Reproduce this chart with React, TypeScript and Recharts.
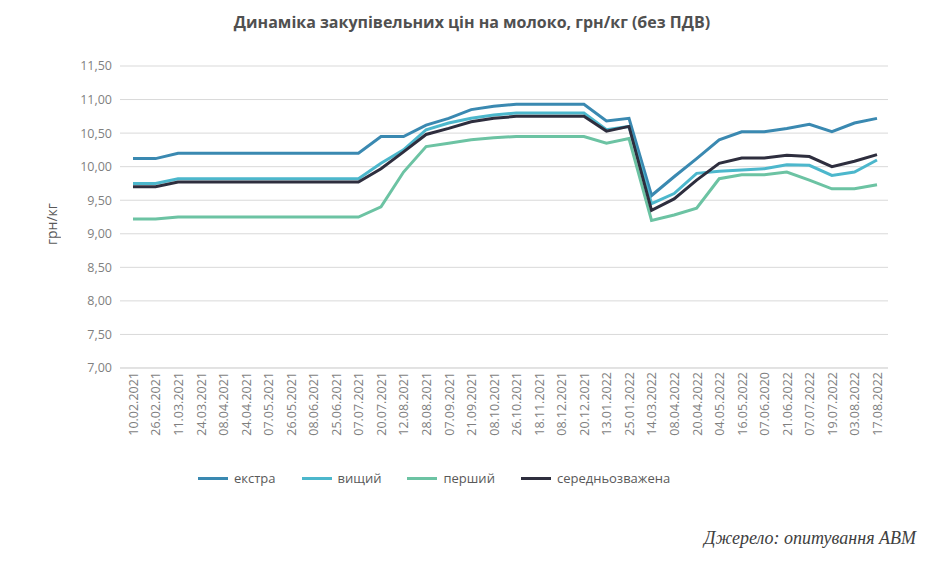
import React from "react";
import { LineChart, Line, XAxis, YAxis, CartesianGrid } from "recharts";

const dates = [
  "10.02.2021", "26.02.2021", "11.03.2021", "24.03.2021", "08.04.2021", "24.04.2021", "07.05.2021",
  "26.05.2021", "08.06.2021", "25.06.2021", "07.07.2021", "20.07.2021", "12.08.2021", "28.08.2021",
  "07.09.2021", "21.09.2021", "08.10.2021", "26.10.2021", "18.11.2021", "08.12.2021", "20.12.2021",
  "13.01.2022", "25.01.2022", "14.03.2022", "08.04.2022", "20.04.2022", "04.05.2022", "16.05.2022",
  "07.06.2020", "21.06.2022", "07.07.2022", "19.07.2022", "03.08.2022", "17.08.2022",
];
const extra = [10.12, 10.12, 10.2, 10.2, 10.2, 10.2, 10.2, 10.2, 10.2, 10.2, 10.2, 10.45, 10.45, 10.62, 10.72, 10.85, 10.9, 10.93, 10.93, 10.93, 10.93, 10.68, 10.72, 9.57, 9.85, 10.12, 10.4, 10.52, 10.52, 10.57, 10.63, 10.52, 10.65, 10.72];
const higher = [9.75, 9.75, 9.82, 9.82, 9.82, 9.82, 9.82, 9.82, 9.82, 9.82, 9.82, 10.05, 10.25, 10.55, 10.65, 10.72, 10.77, 10.8, 10.8, 10.8, 10.8, 10.55, 10.6, 9.45, 9.6, 9.9, 9.93, 9.95, 9.97, 10.03, 10.02, 9.87, 9.92, 10.1];
const first = [9.22, 9.22, 9.25, 9.25, 9.25, 9.25, 9.25, 9.25, 9.25, 9.25, 9.25, 9.4, 9.92, 10.3, 10.35, 10.4, 10.43, 10.45, 10.45, 10.45, 10.45, 10.35, 10.42, 9.2, 9.28, 9.38, 9.82, 9.88, 9.88, 9.92, 9.8, 9.67, 9.67, 9.73];
const weighted = [9.7, 9.7, 9.77, 9.77, 9.77, 9.77, 9.77, 9.77, 9.77, 9.77, 9.77, 9.97, 10.22, 10.48, 10.57, 10.67, 10.72, 10.75, 10.75, 10.75, 10.75, 10.53, 10.6, 9.35, 9.52, 9.8, 10.05, 10.13, 10.13, 10.17, 10.15, 10.0, 10.08, 10.18];
const yTicks = [7, 7.5, 8, 8.5, 9, 9.5, 10, 10.5, 11, 11.5];

const series = [
  { key: "extra", name: "екстра", color: "#3a89b1" },
  { key: "higher", name: "вищий", color: "#4cb7cc" },
  { key: "first", name: "перший", color: "#6cc3a3" },
  { key: "weighted", name: "середньозважена", color: "#2e2e3e" },
];

const data = dates.map((d, i) => ({
  date: d,
  extra: extra[i],
  higher: higher[i],
  first: first[i],
  weighted: weighted[i],
}));

const fmt = (v: number) => v.toFixed(2).replace(".", ",");

const App: React.FC = () => {
  return (
    <div style={{ position: "relative", width: 928, height: 545, fontFamily: "'Open Sans', sans-serif" }}>
      <div style={{ position: "absolute", top: 3, left: -8, width: 944, textAlign: "center", fontWeight: 700, fontSize: 16, color: "#505050" }}>
        Динаміка закупівельних цін на молоко, грн/кг (без ПДВ)
      </div>
      <div style={{ position: "absolute", left: 34, top: 186, width: 20, height: 60, writingMode: "vertical-rl", transform: "rotate(180deg)", fontSize: 14, color: "#595959", textAlign: "center" }}>
        грн/кг
      </div>
      <div style={{ position: "absolute", top: 42, left: 0 }}>
        <LineChart width={900} height={418} data={data} margin={{ top: 16, right: 20, bottom: 0, left: 72 }}>
          <CartesianGrid vertical={false} stroke="#d9d9d9" />
          <XAxis
            dataKey="date"
            interval={0}
            angle={-90}
            textAnchor="end"
            height={100}
            tick={{ fontSize: 12.5, fill: "#7f7f7f", dy: -4, dx: -4 }}
            tickLine={false}
            axisLine={{ stroke: "#d9d9d9" }}
            padding={{ left: 13, right: 11 }}
          />
          <YAxis
            domain={[7, 11.5]}
            ticks={yTicks}
            tickFormatter={fmt}
            tick={{ fontSize: 12.5, fill: "#7f7f7f" }}
            tickLine={false}
            axisLine={false}
            width={40}
          />
          {series.map((s) => (
            <Line key={s.key} type="linear" dataKey={s.key} name={s.name} stroke={s.color} strokeWidth={3} dot={false} isAnimationActive={false} />
          ))}
        </LineChart>
      </div>
      <div style={{ position: "absolute", top: 461, left: 190, display: "flex", fontSize: 13, color: "#595959" }}>
        {series.map((s) => (
          <div key={s.key} style={{ display: "flex", alignItems: "center", marginRight: 26 }}>
            <span style={{ display: "inline-block", width: 30, height: 3, background: s.color, marginRight: 6 }} />
            {s.name}
          </div>
        ))}
      </div>
      <div style={{ position: "absolute", right: 20, top: 520, fontFamily: "'Liberation Serif', serif", fontStyle: "italic", fontSize: 18, color: "#404040" }}>
        Джерело: опитування АВМ
      </div>
    </div>
  );
};

export default App;
